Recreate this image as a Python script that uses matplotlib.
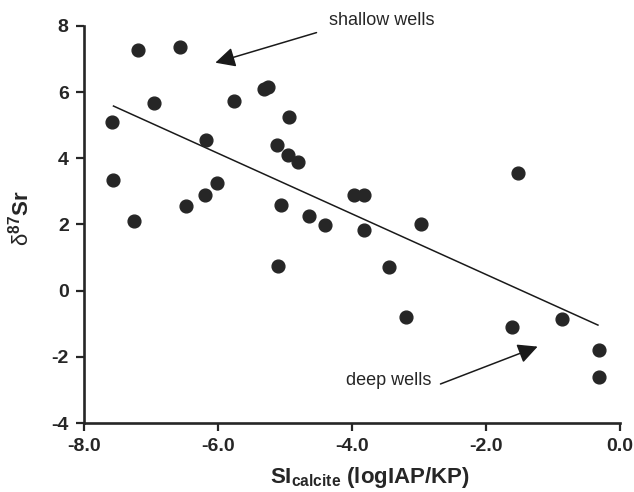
import matplotlib.pyplot as plt
import numpy as np

plt.rcParams['font.family'] = ['Liberation Sans', 'DejaVu Sans']
plt.rcParams['mathtext.fontset'] = 'custom'
plt.rcParams['mathtext.rm'] = 'Liberation Sans'
plt.rcParams['mathtext.bf'] = 'Liberation Sans:bold'
plt.rcParams['mathtext.it'] = 'Liberation Sans:italic'

# SI calcite vs delta 87Sr
si = [-7.58, -7.56, -7.19, -7.25, -6.57, -6.95, -6.48, -6.20, -6.18, -6.01,
      -5.76, -5.31, -5.26, -4.94, -5.12, -4.96, -4.81, -5.06, -4.64, -4.40,
      -5.11, -3.97, -3.82, -3.82, -2.97, -3.45, -3.20, -1.52, -1.61, -0.86,
      -0.32, -0.32]
d87sr = [5.11, 3.34, 7.28, 2.11, 7.35, 5.68, 2.57, 2.88, 4.55, 3.24,
         5.74, 6.09, 6.17, 5.25, 4.40, 4.11, 3.89, 2.59, 2.26, 1.99,
         0.76, 2.89, 2.89, 1.84, 2.03, 0.73, -0.79, 3.57, -1.09, -0.85,
         -1.79, -2.60]

# trend line end points as drawn
trend_x = [-7.56, -0.33]
trend_y = [5.58, -1.04]

xticks = [-8.0, -6.0, -4.0, -2.0, 0.0]
yticks = [-4, -2, 0, 2, 4, 6, 8]

fig = plt.figure(figsize=(6.34, 4.92), dpi=100)
ax = fig.add_axes([0.1325, 0.1402, 0.8455, 0.807])

ax.plot(si, d87sr, 'o', color='#262626', markersize=9.2, zorder=3)
ax.plot(trend_x, trend_y, color='#1a1a1a', linewidth=1.1)

ax.annotate('', xy=(-6.04, 6.89), xytext=(-4.53, 7.80),
            arrowprops=dict(arrowstyle='-|>,head_length=0.6,head_width=0.3',
                            color='#1a1a1a', lw=1.1,
                            mutation_scale=20, shrinkA=0, shrinkB=0),
            annotation_clip=False)
ax.text(-4.34, 8.16, 'shallow wells', fontsize=13, color='#262626',
        va='center', ha='left', clip_on=False)

ax.annotate('', xy=(-1.23, -1.69), xytext=(-2.68, -2.82),
            arrowprops=dict(arrowstyle='-|>,head_length=0.6,head_width=0.3',
                            color='#1a1a1a', lw=1.1,
                            mutation_scale=20, shrinkA=0, shrinkB=0))
ax.text(-2.81, -2.72, 'deep wells', fontsize=13, color='#262626',
        va='center', ha='right')

ax.set_xlim(-8, 0)
ax.set_ylim(-4, 8)
ax.set_xticks(xticks)
ax.set_xticklabels(['%.1f' % v for v in xticks])
ax.set_yticks(yticks)
ax.set_yticklabels([str(v) for v in yticks])

for s in ['top', 'right']:
    ax.spines[s].set_visible(False)
for s in ['left', 'bottom']:
    ax.spines[s].set_linewidth(1.9)
    ax.spines[s].set_color('#262626')
ax.tick_params(direction='out', length=6, width=1.6, color='#262626',
               labelsize=14, labelcolor='#262626', pad=5)
for lab in ax.get_xticklabels() + ax.get_yticklabels():
    lab.set_fontweight('bold')

ax.set_xlabel(r'SI$_{\mathbf{calcite}}$ (logIAP/KP)', fontsize=16,
              fontweight='bold', color='#262626')
ax.xaxis.set_label_coords(0.533, -0.105)
ax.xaxis.label.set_va('top')
ax.set_ylabel(r'$\mathrm{δ}^{\mathbf{87}}\mathbf{Sr}$', fontsize=16,
              color='#262626')
ax.yaxis.set_label_coords(-0.118, 0.516)
ax.yaxis.label.set_va('center')

fig.savefig('out.png', dpi=100)
